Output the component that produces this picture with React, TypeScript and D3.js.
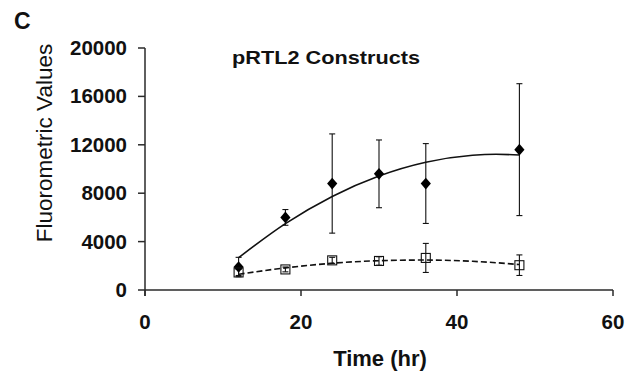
import * as d3 from "d3";

// time points (hr)
const times = [12, 18, 24, 30, 36, 48];
// filled diamonds series
const solidValues = [1900, 6000, 8800, 9600, 8800, 11600];
const solidErrors = [800, 650, 4100, 2800, 3300, 5450];
// open squares series
const openValues = [1450, 1700, 2450, 2400, 2650, 2050];
const openErrors = [250, 200, 250, 350, 1200, 850];

// trendlines
const trendTimes = [12, 18, 24, 30, 36, 42, 45, 48];
const solidTrend = [2670, 5480, 7730, 9420, 10560, 11135, 11215, 11160];
const openTrend = [1300, 1830, 2210, 2420, 2475, 2370, 2255, 2100];

const xTicks = [0, 20, 40, 60];
const yTicks = [0, 4000, 8000, 12000, 16000, 20000];

const W = 628;
const H = 376;
const font = "'Liberation Sans', Arial, sans-serif";
const axisColor = "#2a2a2a";

export default function App() {
  const x = d3.scaleLinear().domain([0, 60]).range([145, 613]);
  const y = d3.scaleLinear().domain([0, 20000]).range([290, 48]);

  const line = d3
    .line<[number, number]>()
    .x((d) => x(d[0]))
    .y((d) => y(d[1]))
    .curve(d3.curveMonotoneX);

  const solidPath = line(trendTimes.map((t, i) => [t, solidTrend[i]])) ?? "";
  const openPath = line(trendTimes.map((t, i) => [t, openTrend[i]])) ?? "";

  // square turned 45deg, slightly stretched vertically, like Excel's diamond
  const diamond = d3.symbol(d3.symbolSquare, 52)() ?? "";

  const errorBar = (t: number, v: number, e: number, key: string) => {
    const cx = x(t);
    return (
      <g key={key} stroke="#111" strokeWidth={1.1}>
        <line x1={cx} x2={cx} y1={y(v + e)} y2={y(v - e)} />
        <line x1={cx - 3} x2={cx + 3} y1={y(v + e)} y2={y(v + e)} />
        <line x1={cx - 3} x2={cx + 3} y1={y(v - e)} y2={y(v - e)} />
      </g>
    );
  };

  return (
    <svg
      width={W}
      height={H}
      style={{ position: "absolute", left: 0, top: 0, background: "#fff" }}
      fontFamily={font}
    >
      <text x={14} y={29} fontSize={23} fontWeight="bold" fill="#111">
        C
      </text>
      <text
        x={232}
        y={64}
        fontSize={18}
        fontWeight="bold"
        fill="#111"
        textLength={188}
        lengthAdjust="spacingAndGlyphs"
      >
        pRTL2 Constructs
      </text>

      {/* y axis */}
      <line x1={x(0)} x2={x(0)} y1={y(20000)} y2={296} stroke={axisColor} strokeWidth={1.5} />
      {yTicks.map((t) => (
        <g key={"yt" + t}>
          <line x1={138} x2={x(0)} y1={y(t)} y2={y(t)} stroke={axisColor} strokeWidth={1.5} />
          <text
            x={127}
            y={y(t) + 7}
            textAnchor="end"
            fontSize={20.5}
            fontWeight="bold"
            fill="#111"
          >
            {t}
          </text>
        </g>
      ))}
      <text
        transform={`translate(52,143) rotate(-90)`}
        textAnchor="middle"
        fontSize={22.5}
        fill="#111"
      >
        Fluorometric Values
      </text>

      {/* x axis */}
      <line x1={x(0)} x2={x(60)} y1={y(0)} y2={y(0)} stroke={axisColor} strokeWidth={1.5} />
      {xTicks.map((t) => (
        <g key={"xt" + t}>
          <line x1={x(t)} x2={x(t)} y1={y(0)} y2={296} stroke={axisColor} strokeWidth={1.5} />
          <text x={x(t)} y={329} textAnchor="middle" fontSize={20.5} fontWeight="bold" fill="#111">
            {t}
          </text>
        </g>
      ))}
      <text x={380} y={366} textAnchor="middle" fontSize={22} fontWeight="bold" fill="#111">
        Time (hr)
      </text>

      {/* trendlines */}
      <path d={solidPath} fill="none" stroke="#111" strokeWidth={1.6} />
      <path d={openPath} fill="none" stroke="#111" strokeWidth={1.6} strokeDasharray="6,3" />

      {/* error bars */}
      {times.map((t, i) => errorBar(t, solidValues[i], solidErrors[i], "se" + i))}
      {times.map((t, i) => errorBar(t, openValues[i], openErrors[i], "oe" + i))}

      {/* markers */}
      {times.map((t, i) => (
        <path
          key={"d" + i}
          d={diamond}
          transform={`translate(${x(t)},${y(solidValues[i])}) scale(1,1.15) rotate(45)`}
          fill="#000"
        />
      ))}
      {times.map((t, i) => (
        <rect
          key={"s" + i}
          x={x(t) - 4.5}
          y={y(openValues[i]) - 4.5}
          width={9}
          height={9}
          fill="none"
          stroke="#111"
          strokeWidth={1.1}
        />
      ))}
    </svg>
  );
}
